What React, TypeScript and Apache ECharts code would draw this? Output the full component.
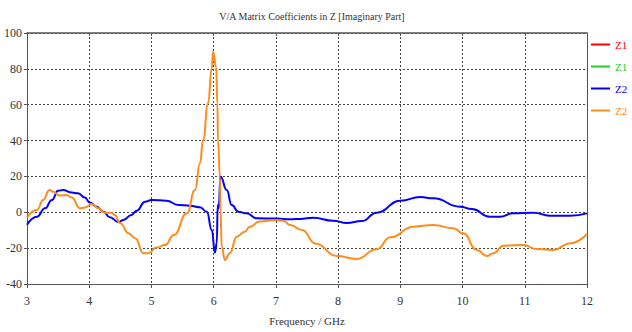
import React, { useEffect, useRef } from "react";
import * as echarts from "echarts";

const TITLE = "V/A Matrix Coefficients in Z [Imaginary Part]";
const X_NAME = "Frequency / GHz";
const SERIES_NAMES = ["Z1", "Z1 ", "Z2", "Z2 "];
const SERIES_COLORS = ["#ff0000", "#22cc22", "#0000ff", "#ff8c1a"];

const z1aFreq: number[] = [];
const z1aVal: number[] = [];
const z1bFreq: number[] = [];
const z1bVal: number[] = [];

const blueFreq = [3.0, 3.16, 3.29, 3.4, 3.5, 3.58, 3.72, 3.82, 3.93, 4.01, 4.12, 4.23, 4.33, 4.47, 4.55, 4.68, 4.76, 4.9, 5.0, 5.24, 5.43, 5.62, 5.78, 5.89, 5.97, 6.02, 6.05, 6.065, 6.08, 6.11, 6.21, 6.29, 6.4, 6.53, 6.69, 7.01, 7.23, 7.39, 7.6, 7.92, 8.14, 8.38, 8.62, 9.0, 9.32, 9.53, 9.96, 10.15, 10.44, 10.6, 10.81, 11.14, 11.4, 11.73, 12.0];
const blueVal = [-7, -2.5, 2.2, 6.9, 12, 12.4, 11, 10.6, 8.2, 5.4, 3.1, 0.3, -2.8, -5.4, -4.3, -1.5, 0.9, 5.9, 6.9, 6.5, 4.1, 3.7, 2.8, 0.3, -9.9, -22.5, -17, 4, 2, 20, 12.4, 4, 0.3, -0.6, -3.3, -3.5, -3.9, -3.7, -3, -4.7, -6, -4.9, -0.2, 6.5, 8.5, 7.8, 3.1, 1.8, -2.5, -2.5, -0.6, -0.2, -1.9, -1.9, -0.6];

const orangeFreq = [3.0, 3.16, 3.26, 3.36, 3.42, 3.52, 3.64, 3.72, 3.85, 3.93, 4.04, 4.15, 4.25, 4.36, 4.41, 4.5, 4.63, 4.74, 4.87, 4.95, 5.08, 5.22, 5.36, 5.57, 5.7, 5.78, 5.83, 5.91, 5.97, 5.99, 6.04, 6.06, 6.07, 6.1, 6.11, 6.13, 6.18, 6.26, 6.37, 6.5, 6.58, 6.74, 6.99, 7.12, 7.23, 7.42, 7.64, 7.98, 8.3, 8.62, 8.84, 9.21, 9.53, 9.85, 10.01, 10.23, 10.39, 10.49, 10.66, 10.98, 11.19, 11.46, 11.73, 12.0];
const orangeVal = [-3, 1.3, 6.9, 12.4, 11.5, 9.3, 9.6, 8.2, 2.2, 2.6, 4.6, 2.2, -0.2, -0.2, -1.5, -6.1, -11.7, -14.5, -22.9, -22.9, -19.7, -18.2, -12.7, -0.6, 12.4, 27.3, 40.3, 60.8, 80.3, 89.6, 81, 60.8, 40, 20, 0, -19.2, -26.6, -22.9, -13.6, -10.8, -8, -5.2, -4.3, -4.7, -7.1, -9.9, -17.5, -24.4, -26, -20.6, -13.9, -8, -7.1, -8.9, -11.7, -21, -24.4, -22.9, -18.6, -18.2, -20.5, -21, -17.3, -12.1];

const X_MIN = 3;
const X_MAX = 12;
const X_STEP = 1;
const Y_MIN = -40;
const Y_MAX = 100;
const Y_STEP = 20;

const FONT = "Liberation Sans Narrow";

function pairs(xs: number[], ys: number[]) {
  return xs.map((x, i) => [x, ys[i]]);
}

export default function App() {
  const ref = useRef<HTMLDivElement>(null);
  useEffect(() => {
    if (!ref.current) return;
    const chart = echarts.init(ref.current, undefined, { renderer: "svg" });
    const axisColor = "#555555";
    const gridLine = { show: true, lineStyle: { color: "#444444", type: [2, 2] as any, width: 1 } };
    const dataSets = [
      pairs(z1aFreq, z1aVal),
      pairs(z1bFreq, z1bVal),
      pairs(blueFreq, blueVal),
      pairs(orangeFreq, orangeVal),
    ];
    chart.setOption({
      animation: false,
      backgroundColor: "#ffffff",
      title: {
        text: TITLE,
        left: 307,
        textAlign: "center",
        top: 6,
        textStyle: { fontFamily: FONT, fontSize: 10, fontWeight: "normal", color: "#333333" },
      },
      legend: {
        orient: "vertical",
        left: 591,
        top: 39,
        padding: 0,
        itemWidth: 19,
        itemHeight: 2,
        itemGap: 11,
        icon: "rect",
        formatter: (name: string) => name.trim(),
        data: SERIES_NAMES.map((n, i) => ({
          name: n,
          itemStyle: { color: SERIES_COLORS[i] },
          textStyle: { color: SERIES_COLORS[i] },
        })),
        textStyle: { fontFamily: FONT, fontSize: 11 },
        selectedMode: false,
      },
      grid: { left: 27, right: 45, top: 33, bottom: 48 },
      xAxis: [
        {
          type: "value",
          min: X_MIN,
          max: X_MAX,
          interval: X_STEP,
          position: "bottom",
          name: X_NAME,
          nameLocation: "middle",
          nameGap: 31,
          nameTextStyle: { fontFamily: FONT, fontSize: 11, color: "#333333" },
          axisLine: { show: true, onZero: false, lineStyle: { color: axisColor, width: 1 } },
          axisTick: { show: true, length: 4, inside: false, lineStyle: { color: axisColor } },
          axisLabel: { fontFamily: FONT, fontSize: 12, color: "#333333", margin: 11 },
          splitLine: gridLine,
        },
        {
          type: "value",
          min: X_MIN,
          max: X_MAX,
          interval: X_STEP,
          position: "top",
          axisLine: { show: true, onZero: false, lineStyle: { color: axisColor, width: 1.5 } },
          axisTick: { show: true, length: 3, inside: true, lineStyle: { color: axisColor } },
          axisLabel: { show: false },
          splitLine: { show: false },
        },
      ],
      yAxis: [
        {
          type: "value",
          min: Y_MIN,
          max: Y_MAX,
          interval: Y_STEP,
          position: "left",
          axisLine: { show: true, onZero: false, lineStyle: { color: axisColor, width: 1 } },
          axisTick: { show: true, length: 3, inside: false, lineStyle: { color: axisColor } },
          axisLabel: { fontFamily: FONT, fontSize: 12, color: "#333333", margin: 5 },
          splitLine: gridLine,
        },
        {
          type: "value",
          min: Y_MIN,
          max: Y_MAX,
          interval: Y_STEP,
          position: "right",
          axisLine: { show: true, onZero: false, lineStyle: { color: axisColor, width: 1 } },
          axisTick: { show: false },
          axisLabel: { show: false },
          splitLine: { show: false },
        },
      ],
      series: SERIES_NAMES.map((n, i) => ({
        name: n,
        type: "line",
        xAxisIndex: 0,
        yAxisIndex: 0,
        data: dataSets[i],
        showSymbol: false,
        symbol: "none",
        smooth: 0.5,
        smoothMonotone: "x",
        lineStyle: { color: SERIES_COLORS[i], width: 2 },
        itemStyle: { color: SERIES_COLORS[i] },
        z: 2 + i,
      })),
    });
    return () => chart.dispose();
  }, []);
  return <div ref={ref} style={{ width: 632, height: 332, position: "absolute", left: 0, top: 0 }} />;
}
